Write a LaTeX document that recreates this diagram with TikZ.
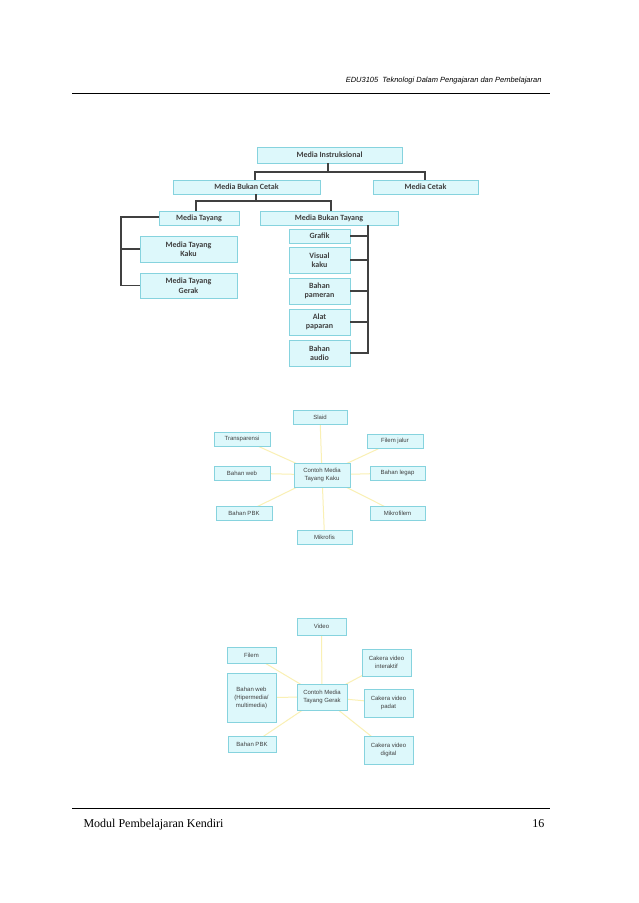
\documentclass[tikz,border=0pt]{standalone}
\usepackage{fontspec}
\usetikzlibrary{backgrounds}
\setmainfont{Liberation Serif}
\newfontfamily\carl{Carlito}
\newfontfamily\lsans{Liberation Sans}
\definecolor{bfill}{HTML}{DDF8FB}
\definecolor{bdraw}{HTML}{86D3DE}
\definecolor{tline}{HTML}{404040}
\definecolor{yline}{HTML}{FAF0B4}
\begin{document}
\begin{tikzpicture}[x=1pt,y=-1pt,
  tb/.style={draw=bdraw,fill=bfill,line width=0.8pt,inner sep=0pt,font=\carl\bfseries\fontsize{8}{9.5}\selectfont,text=black!75,align=center},
  sb/.style={draw=bdraw,fill=bfill,line width=0.8pt,inner sep=0pt,font=\lsans\fontsize{6}{8}\selectfont,text=black!75,align=center},
  tl/.style={draw=tline,line width=1.6pt},
  yl/.style={draw=yline,line width=1pt}]
\useasboundingbox (0,0) rectangle (638,903);
% header/footer
\node[anchor=base east,font=\lsans\itshape\fontsize{7.5}{9}\selectfont] (hd) at (545,82) {EDU3105\ \ Teknologi Dalam Pengajaran dan Pembelajaran};
\draw (72,93) -- (550,93);
\draw (72,808) -- (550,808);
\node[anchor=base west,font=\fontsize{12}{14}\selectfont] (ft) at (80,827) {Modul Pembelajaran Kendiri};
\node[anchor=base east,font=\fontsize{12}{14}\selectfont] (pg) at (548,827) {16};
% tree
\newcommand{\bx}[6]{\node[#1,minimum width=#4-#2,minimum height=#5-#3] (#6) at ({(#2+#4)/2},{(#3+#5)/2})}
\bx{tb}{257}{147}{402}{163}{mi} {Media Instruksional};
\bx{tb}{173}{180}{320}{194}{mbc} {Media Bukan Cetak};
\bx{tb}{373}{180}{478}{194}{mc} {Media Cetak};
\bx{tb}{159}{211}{239}{225}{mt} {Media Tayang};
\bx{tb}{260}{211}{398}{225}{mbt} {Media Bukan Tayang};
\bx{tb}{140}{236}{237}{262}{mtk} {Media Tayang\\Kaku};
\bx{tb}{140}{273}{237}{298}{mtg} {Media Tayang\\Gerak};
\bx{tb}{289}{229}{350}{243}{gr} {Grafik};
\bx{tb}{289}{247}{350}{273}{vk} {Visual\\kaku};
\bx{tb}{289}{278}{350}{304}{bp} {Bahan\\pameran};
\bx{tb}{289}{309}{350}{335}{ap} {Alat\\paparan};
\bx{tb}{289}{340}{350}{366}{ba} {Bahan\\audio};
\coordinate (j1) at (328,172);
\draw[tl] (mi.south -| j1) -- (j1);
\draw[tl] (mbc.north -| 255,0) |- (j1) -| (mc.north -| 425,0);
\coordinate (j2) at (256,201);
\draw[tl] (mbc.south -| j2) -- (j2);
\draw[tl] (mt.north -| 196,0) |- (j2) -| (mbt.north -| 331,0);
\coordinate (lb) at (121,217);
\draw[tl] (mt.west |- lb) -- (lb) |- (mtg.west);
\draw[tl] (lb |- mtk.west) -- (mtk.west);
\coordinate (rb) at (368,225);
\draw[tl] (mbt.south -| rb) -- (rb |- ba.east) -- (ba.east);
\foreach \n in {gr,vk,bp,ap} \draw[tl] (rb |- \n.east) -- (\n.east);
% diagram 2
\bx{sb}{294}{463}{350}{487}{c1} {Contoh Media\\Tayang Kaku};
\bx{sb}{293}{410}{347}{424}{s1} {Slaid};
\bx{sb}{214}{432}{270}{446}{s2} {Transparensi};
\bx{sb}{367}{434}{423}{448}{s3} {Filem jalur};
\bx{sb}{214}{466}{270}{480}{s4} {Bahan web};
\bx{sb}{370}{466}{425}{480}{s5} {Bahan legap};
\bx{sb}{216}{506}{272}{520}{s6} {Bahan PBK};
\bx{sb}{370}{506}{425}{520}{s7} {Mikrofilem};
\bx{sb}{297}{530}{352}{544}{s8} {Mikrofis};
% diagram 3
\bx{sb}{297}{684}{347}{710}{c2} {Contoh Media\\Tayang Gerak};
\bx{sb}{297}{618}{346}{635}{g1} {Video};
\bx{sb}{227}{647}{276}{663}{g2} {Filem};
\bx{sb}{362}{649}{411}{676}{g3} {Cakera video\\interaktif};
\bx{sb}{227}{673}{276}{722}{g4} {Bahan web\\(Hipermedia/\\multimedia)};
\bx{sb}{364}{689}{413}{717}{g5} {Cakera video\\padat};
\bx{sb}{228}{736}{276}{752}{g6} {Bahan PBK};
\bx{sb}{364}{736}{413}{764}{g7} {Cakera video\\digital};
\begin{pgfonlayer}{background}
\fill[white] (0,0) rectangle (638,903);
\foreach \n in {s1,s2,s3,s4,s5,s6,s7,s8} \draw[yl] (c1.center) -- (\n.center);
\foreach \n in {g1,g2,g3,g4,g5,g6,g7} \draw[yl] (c2.center) -- (\n.center);
\end{pgfonlayer}
\end{tikzpicture}
\end{document}
